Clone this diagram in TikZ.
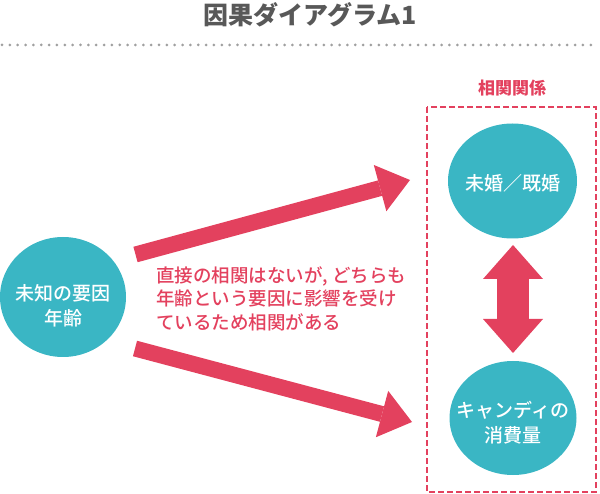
\documentclass[tikz,border=0pt]{standalone}
\usepackage{fontspec}
\newfontfamily\jp{Noto Sans CJK JP}
\newfontfamily\jpm{Noto Sans CJK JP Medium}
\usetikzlibrary{arrows.meta,shapes.geometric}
\definecolor{cteal}{RGB}{58,182,196}
\definecolor{cred}{RGB}{227,65,94}
\definecolor{cgrey}{RGB}{88,88,88}
\definecolor{cdot}{RGB}{160,160,160}
\begin{document}
\begin{tikzpicture}[x=1pt,y=-1pt,
  bubble/.style={ellipse, fill=cteal, draw=none, inner sep=0pt},
  bubtext/.style={text=white, align=center, inner sep=0pt, font=\jpm\fontsize{19}{25}\selectfont},
  fat/.style={draw=cred, line width=16pt, -{Triangle[length=31pt,width=48pt,line width=0pt]}},
  dbl/.style={draw=cred, line width=32pt, {Triangle[length=34pt,width=60pt,line width=0pt]}-{Triangle[length=34pt,width=60pt,line width=0pt]}},
  redtext/.style={text=cred, inner sep=0pt, font=\jpm\fontsize{18.5}{23.5}\selectfont, align=left}]
\useasboundingbox (0,0) rectangle (600,494);
% title
\node[text=cgrey, inner sep=0pt, font=\jp\bfseries\fontsize{25}{30}\selectfont] (title) at (310,15) {因果ダイアグラム1};
\coordinate (dl) at (2,45);
\coordinate (dr) at (598,45);
\draw[cdot, line width=3pt, line cap=round, dash pattern=on 0pt off 7.85pt] (dl) -- (dr);
% related box
\coordinate (b1) at (427,107);
\coordinate (b2) at (596,492);
\draw[cred, line width=2.5pt, dash pattern=on 6pt off 3pt] (b1) rectangle (b2);
\node[text=cred, inner sep=0pt, font=\jp\bfseries\fontsize{17}{20}\selectfont] (rel) at (512,88) {相関関係};
% bubbles
\node[bubble, minimum width=126pt, minimum height=120pt] (age) at (63,297) {};
\node[bubtext] (agetxt) at (63,306) {未知の要因\\年齢};
\node[bubble, minimum width=129pt, minimum height=115pt] (marry) at (512.5,181) {};
\node[bubtext] (marrytxt) at (513,183) {未婚／既婚};
\node[bubble, minimum width=127pt, minimum height=114pt] (candy) at (513,418) {};
\node[bubtext] (candytxt) at (513,422.5) {キャンディの\\消費量};
% arrows
\coordinate (u1) at (135.5,254.5);
\coordinate (u2) at (410,180);
\coordinate (l1) at (135,348.5);
\coordinate (l2) at (412,422);
\coordinate (d1) at (513,245);
\coordinate (d2) at (513,353);
\draw[fat] (u1) -- (u2);
\draw[fat] (l1) -- (l2);
\draw[dbl] (d1) -- (d2);
% explanation
\node[redtext, anchor=west] (expl) at (156,298.5) {直接の相関はないが, どちらも\\年齢という要因に影響を受け\\ているため相関がある};
\end{tikzpicture}
\end{document}
